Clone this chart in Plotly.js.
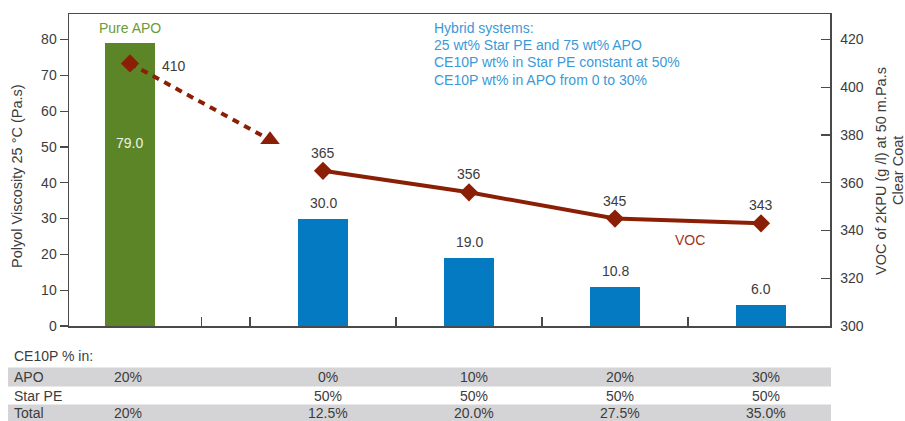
<!DOCTYPE html>
<html>
<head>
<meta charset="utf-8">
<script src="https://cdn.plot.ly/plotly-3.0.1.min.js"></script>
<style>html,body{margin:0;padding:0;background:#fff;}#chart{width:905px;height:421px;}</style>
</head>
<body>
<div id="chart"></div>
<script>
// ---- data ----
const categories = ["Pure APO", "0%", "10%", "20%", "30%"];
const viscosity = [79.0, 30.0, 19.0, 10.8, 6.0];
const vocPure = 410;
const vocEstimate = 378;
const vocHybrid = [365, 356, 345, 343];
const rowLabels = ["APO", "Star PE", "Total"];
const apoRow = ["20%", "0%", "10%", "20%", "30%"];
const starPeRow = ["", "50%", "50%", "50%", "50%"];
const totalRow = ["20%", "12.5%", "20.0%", "27.5%", "35.0%"];
const noteLines = ["Hybrid systems:", "25 wt% Star PE and 75 wt% APO",
  "CE10P wt% in Star PE constant at 50%", "CE10P wt% in APO from 0 to 30%"];
const rightTitleLines = ["VOC of 2KPU (g /l) at 50 m.Pa.s", "Clear Coat"];

// ---- layout positions (axis units) ----
const xPos = [-0.322, 1, 2, 3, 4];
const estX = 0.637;

const FONT = "Liberation Sans, Arial, sans-serif";
const TXT = "#3c3c3c";
const GREEN = "#5c8527";
const BLUE = "#037ac1";
const RED = "#8b1f05";
const AX = "#4a4a4a";

const traces = [
  {
    type: "bar", x: xPos, y: viscosity, width: 0.3425,
    marker: {color: viscosity.map((v, i) => i === 0 ? GREEN : BLUE)},
    yaxis: "y", showlegend: false
  },
  {
    type: "scatter", mode: "lines", x: [xPos[0], estX], y: [vocPure, vocEstimate],
    yaxis: "y2", line: {color: RED, width: 4, dash: "7px,6px"}, showlegend: false
  },
  {
    type: "scatter", mode: "markers", x: [xPos[0]], y: [vocPure], yaxis: "y2",
    marker: {color: RED, symbol: "diamond", size: 14, line: {width: 0}}, showlegend: false
  },
  {
    type: "scatter", mode: "markers", x: [estX], y: [vocEstimate], yaxis: "y2",
    marker: {color: RED, symbol: "triangle-up", size: 17, line: {width: 0}}, showlegend: false
  },
  {
    type: "scatter", mode: "lines+markers", x: xPos.slice(1), y: vocHybrid,
    yaxis: "y2", line: {color: RED, width: 4},
    marker: {color: RED, symbol: "diamond", size: 14, line: {width: 0}},
    showlegend: false
  }
];

const py = p => (326 - p) / 312;   // pixel row -> paper y
const px = p => (p - 69) / 761;    // pixel col -> paper x

const annotations = [];
function ann(o) {
  annotations.push(Object.assign({showarrow: false, xanchor: "center", yanchor: "middle"}, o));
}
// bar labels
viscosity.forEach((v, i) => {
  ann({x: xPos[i], y: v, xref: "x", yref: "y", text: v.toFixed(1),
    yshift: i === 0 ? -100 : 16,
    font: {family: FONT, size: 14, color: i === 0 ? "#eef2e6" : TXT}});
});
// VOC labels
ann({x: xPos[0], y: vocPure, xref: "x", yref: "y2", text: String(vocPure),
  xshift: 44, yshift: -3, font: {family: FONT, size: 14, color: TXT}});
vocHybrid.forEach((v, i) => {
  ann({x: xPos[i + 1], y: v, xref: "x", yref: "y2", text: String(v),
    yshift: 18, font: {family: FONT, size: 14, color: TXT}});
});
// text labels in plot
ann({x: xPos[0], y: py(28), xref: "x", yref: "paper", text: categories[0],
  font: {family: FONT, size: 14, color: "#6b9b3a"}});
noteLines.forEach((t, i) => {
  ann({x: px(432), y: py(28 + 17.2 * i), xref: "paper", yref: "paper", xanchor: "left",
    text: t, font: {family: FONT, size: 14, color: "#3a9ad8"}});
});
ann({x: px(690), y: py(240), xref: "paper", yref: "paper", text: "VOC",
  font: {family: FONT, size: 14, color: "#a2341c"}});
// axis titles
ann({x: px(17), y: py(176), xref: "paper", yref: "paper", textangle: -90,
  text: "Polyol Viscosity 25 °C (Pa.s)", font: {family: FONT, size: 14.5, color: TXT}});
rightTitleLines.forEach((t, i) => {
  ann({x: px(881 + 17 * i), y: py(171), xref: "paper", yref: "paper", textangle: -90,
    text: t, font: {family: FONT, size: 14.5, color: TXT}});
});
// table
ann({x: px(12), y: py(356), xref: "paper", yref: "paper", xanchor: "left",
  text: "CE10P % in:", font: {family: FONT, size: 14, color: TXT}});
const rowY = [377, 395.5, 412.5];
const rows = [apoRow, starPeRow, totalRow];
rowLabels.forEach((lab, r) => {
  ann({x: px(12), y: py(rowY[r]), xref: "paper", yref: "paper", xanchor: "left",
    text: lab, font: {family: FONT, size: 14, color: TXT}});
  rows[r].forEach((val, c) => {
    if (!val) return;
    ann({x: xPos[c], y: py(rowY[r]), xref: "x", yref: "paper",
      xshift: c === 0 ? -2 : 5, text: val, font: {family: FONT, size: 14, color: TXT}});
  });
});

const shapes = [
  {type: "rect", xref: "paper", yref: "paper", x0: px(8), x1: px(831), y0: py(367.5), y1: py(386.5),
   fillcolor: "#d4d4d6", line: {width: 0}, layer: "below"},
  {type: "rect", xref: "paper", yref: "paper", x0: px(8), x1: px(831), y0: py(404.5), y1: py(425),
   fillcolor: "#d4d4d6", line: {width: 0}, layer: "below"}
];

const layout = {
  width: 905, height: 421,
  margin: {l: 69, r: 75, t: 14, b: 95, pad: 0},
  paper_bgcolor: "#ffffff", plot_bgcolor: "#ffffff",
  font: {family: FONT, size: 14, color: TXT},
  showlegend: false,
  bargap: 0,
  xaxis: {
    range: [-0.7397, 4.4726], showgrid: false, zeroline: false,
    showline: true, linecolor: AX, linewidth: 1.5, mirror: true,
    ticks: "inside", ticklen: 9, tickwidth: 1.3, tickcolor: AX,
    tickmode: "array", tickvals: [0.166, 0.5, 1.5, 2.5, 3.5], showticklabels: false, fixedrange: true
  },
  yaxis: {
    range: [0, 87.14], tickmode: "linear", tick0: 0, dtick: 10,
    showgrid: false, zeroline: false, showline: true, linecolor: AX, linewidth: 1.5,
    ticks: "outside", ticklen: 8, tickwidth: 1.3, tickcolor: AX,
    tickfont: {family: FONT, size: 14, color: TXT}, fixedrange: true
  },
  yaxis2: {
    overlaying: "y", side: "right", range: [300, 430.7], tickmode: "linear", tick0: 300, dtick: 20,
    showgrid: false, zeroline: false, showline: true, linecolor: AX, linewidth: 1.5,
    ticks: "inside", ticklen: 9, tickwidth: 1.3, tickcolor: AX, ticklabelstandoff: 6,
    tickfont: {family: FONT, size: 14, color: TXT}, fixedrange: true
  },
  annotations: annotations,
  shapes: shapes
};

Plotly.newPlot("chart", traces, layout, {displayModeBar: false, staticPlot: true});
</script>
</body>
</html>
